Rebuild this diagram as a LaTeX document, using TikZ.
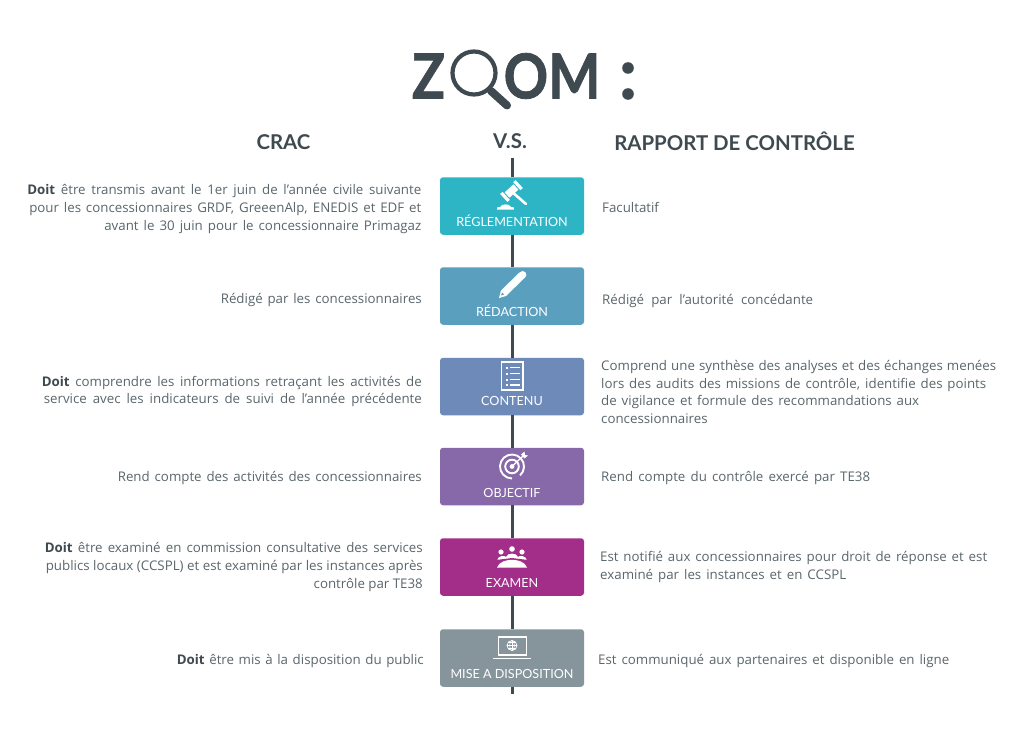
\documentclass[tikz,border=0pt]{standalone}
\usepackage{fontspec}
\setmainfont{Open Sans}
\newfontfamily\lato{Lato}
\newfontfamily\latofat[FakeBold=1.2]{Lato Bold}
\definecolor{dk}{HTML}{3F4A50}
\definecolor{tx}{HTML}{5A666C}
\definecolor{c1}{HTML}{2DB5C5}
\definecolor{c2}{HTML}{5B9FBF}
\definecolor{c3}{HTML}{6E8AB8}
\definecolor{c4}{HTML}{8768A8}
\definecolor{c5}{HTML}{A22E8A}
\definecolor{c6}{HTML}{86949B}
\newcommand{\dt}{\textbf{\textcolor{dk}{Doit}}}
\newcommand{\fl}[2]{\makebox[#1pt][s]{#2}}
\newcommand{\gv}[2]{({511.5+.74*(#1)+.67*(#2)},{191-.67*(#1)+.74*(#2)})}
\tikzset{
 x=1pt,y=-1pt,
 box/.style={rounded corners=3pt,minimum width=144pt,minimum height=57.5pt,inner sep=0pt,anchor=center},
 lab/.style={text=white,font=\lato\fontsize{12.6}{15}\selectfont,inner sep=0pt,anchor=center},
 lt/.style={text=tx,font=\fontsize{13.3}{17.6}\selectfont,align=right,anchor=east,inner sep=0pt},
 rt/.style={text=tx,font=\fontsize{13.3}{17.6}\selectfont,align=left,anchor=west,inner sep=0pt},
 hd/.style={text=dk,font=\lato\bfseries\fontsize{20.4}{24}\selectfont,inner sep=0pt,anchor=center},
 ti/.style={text=dk,font=\latofat\fontsize{62}{70}\selectfont,inner sep=0pt,anchor=center},
 conn/.style={draw=dk,line width=3pt},
 ic/.style={draw=white,line width=1.5pt,fill=none},
}
\begin{document}
\begin{tikzpicture}
\useasboundingbox (0,0) rectangle (1024,730);
\fill[white] (0,0) rectangle (1024,730);
% title
\node[ti] (tz) at (428.5,76) {\scalebox{.88}[1]{Z}};
\node[ti] (tom) at (552,76) {\scalebox{.89}[1]{OM}};
\node[circle,draw=dk,line width=4.2pt,minimum size=43pt,inner sep=0pt] (lens) at (474,73) {};
\coordinate (hs) at (491,91);
\coordinate (he) at (507,105.5);
\draw[dk,line width=3pt] (lens) -- (hs);
\draw[dk,line width=8pt,line cap=round] (hs) -- (he);
\fill[dk] (628,68) circle (5.8);
\fill[dk] (628,94) circle (5.8);
% heads
\node[hd] (h1) at (283.5,142.5) {CRAC};
\node[hd] (h2) at (510,141.5) {V.S.};
\node[hd] (h3) at (734.5,141) {RAPPORT DE CONTRÔLE};
% spine
\coordinate (top) at (512,158);
\coordinate (bot) at (512,694);
\node[box,fill=c1] (b1) at (512,206) {};
\node[box,fill=c2] (b2) at (512,296) {};
\node[box,fill=c3] (b3) at (512,386.5) {};
\node[box,fill=c4] (b4) at (512,476.5) {};
\node[box,fill=c5] (b5) at (512,567) {};
\node[box,fill=c6] (b6) at (512,658) {};
\draw[conn] (top) -- (b1);
\draw[conn] (b1) -- (b2);
\draw[conn] (b2) -- (b3);
\draw[conn] (b3) -- (b4);
\draw[conn] (b4) -- (b5);
\draw[conn] (b5) -- (b6);
\draw[conn] (b6) -- (bot);
% labels
\node[lab] (l1) at (512,220.5) {RÉGLEMENTATION};
\node[lab] (l2) at (512,310.5) {RÉDACTION};
\node[lab] (l3) at (512,401) {CONTENU};
\node[lab] (l4) at (512,492.5) {OBJECTIF};
\node[lab] (l5) at (512,583) {EXAMEN};
\node[lab] (l6) at (512,673.5) {MISE A DISPOSITION};
% gavel
\fill[white] \gv{-6}{-3.6} -- \gv{6}{-3.6} -- \gv{6}{3.6} -- \gv{-6}{3.6} -- cycle;
\fill[white] \gv{7.2}{-5.4} -- \gv{10.4}{-5.4} -- \gv{10.4}{5.4} -- \gv{7.2}{5.4} -- cycle;
\fill[white] \gv{-10.4}{-5.4} -- \gv{-7.2}{-5.4} -- \gv{-7.2}{5.4} -- \gv{-10.4}{5.4} -- cycle;
\draw[white,line width=2.6pt,line cap=round] \gv{0}{3} -- (526,204);
\fill[white] (497,209.5) -- (497.5,207) -- (500,207) .. controls (501,203.5) and (510,203.5) .. (511,207) -- (513.5,207) -- (514,209.5) -- cycle;
% pencil
\fill[white] (499,298) -- (501,290.5) -- (519.5,272.5) .. controls (521.5,270.5) and (524,270.5) .. (525.5,272.5) .. controls (527,274.5) and (526.5,276) .. (525,277.5) -- (506,296) -- cycle;
\fill[c2] (501,295.5) -- (502,292.5) -- (504,294.5) -- cycle;
% list
\draw[ic] (501.5,362) rectangle (523,390);
\foreach \y in {367.5,373.5,379.5,385} {
 \fill[white] (505.5,\y-1) rectangle (507.8,\y+1);
 \draw[white,line width=1.1pt] (510,\y) -- (519.5,\y);
}
% target
\draw[white,line width=1.9pt] (512,466.5) ++(48:12) arc (48:-270:12);
\draw[white,line width=1.9pt] (512,466.5) circle (6.8);
\fill[white] (512,466.5) circle (2.4);
\draw[white,line width=1.3pt] (512,466.5) -- (523,456);
\fill[white] (521,454.5) -- (524.5,451.5) -- (525,455) -- (528,455.5) -- (524.5,458.5) -- cycle;
% people
\fill[white] (501,552) circle (2.6);
\fill[white] (512,549) circle (2.8);
\fill[white] (522,552) circle (2.6);
\fill[white] (497,567.5) -- (497,561) .. controls (497,555.5) and (505,555) .. (506,557) .. controls (507,552.5) and (517,552.5) .. (518,557) .. controls (519,555) and (527,555.5) .. (527,561) -- (527,567.5) -- cycle;
\fill[c5] (496,560) -- (512,558) -- (528,560) -- (528,568) -- (496,568) -- cycle;
\fill[white] (497,567.5) -- (527,567.5) .. controls (525,561.5) and (517,559.8) .. (512,559.8) .. controls (507,559.8) and (499,561.5) .. (497,567.5) -- cycle;
% laptop
\draw[ic] (498.5,637) rectangle (526.5,655);
\draw[white,line width=1.5pt] (493,658.5) -- (531,658.5);
\draw[white,line width=.7pt] (512,645.5) circle (5);
\draw[white,line width=.5pt] (507,645.5) -- (517,645.5) (512,640.5) -- (512,650.5) (508,642.5) -- (516,642.5) (508,648.5) -- (516,648.5);
\draw[white,line width=.5pt] (512,645.5) ellipse (2.4 and 5);
% left
\node[lt] (a1) at (421.5,209) {\fl{394}{\dt{} être transmis avant le 1er juin de l’année civile suivante}\\\fl{392}{pour les concessionnaires GRDF, GreeenAlp, ENEDIS et EDF et}\\\fl{317}{avant le 30 juin pour le concessionnaire Primagaz}};
\node[lt] (a2) at (422,300) {\fl{201}{Rédigé par les concessionnaires}};
\node[lt] (a3) at (422,391.5) {\fl{380}{\dt{} comprendre les informations retraçant les activités de}\\\fl{378}{service avec les indicateurs de suivi de l’année précédente}};
\node[lt] (a4) at (422,478) {\fl{304}{Rend compte des activités des concessionnaires}};
\node[lt] (a5) at (423,567) {\fl{378}{\dt{} être examiné en commission consultative des services}\\\fl{377}{publics locaux (CCSPL) et est examiné par les instances après}\\contrôle par TE38};
\node[lt] (a6) at (424,660.5) {\fl{247}{\dt{} être mis à la disposition du public}};
% right
\node[rt] (r1) at (602,207.5) {Facultatif};
\node[rt] (r2) at (602,301.5) {\fl{211}{Rédigé par l’autorité concédante}};
\node[rt] (r3) at (601,392) {\fl{395}{Comprend une synthèse des analyses et des échanges menées}\\\fl{385}{lors des audits des missions de contrôle, identifie des points}\\\fl{318}{de vigilance et formule des recommandations aux}\\concessionnaires};
\node[rt] (r4) at (601,478) {\fl{269}{Rend compte du contrôle exercé par TE38}};
\node[rt] (r5) at (600,567) {\fl{387}{Est notifié aux concessionnaires pour droit de réponse et est}\\\fl{246}{examiné par les instances et en CCSPL}};
\node[rt] (r6) at (598,660.5) {\fl{351}{Est communiqué aux partenaires et disponible en ligne}};
\end{tikzpicture}
\end{document}
